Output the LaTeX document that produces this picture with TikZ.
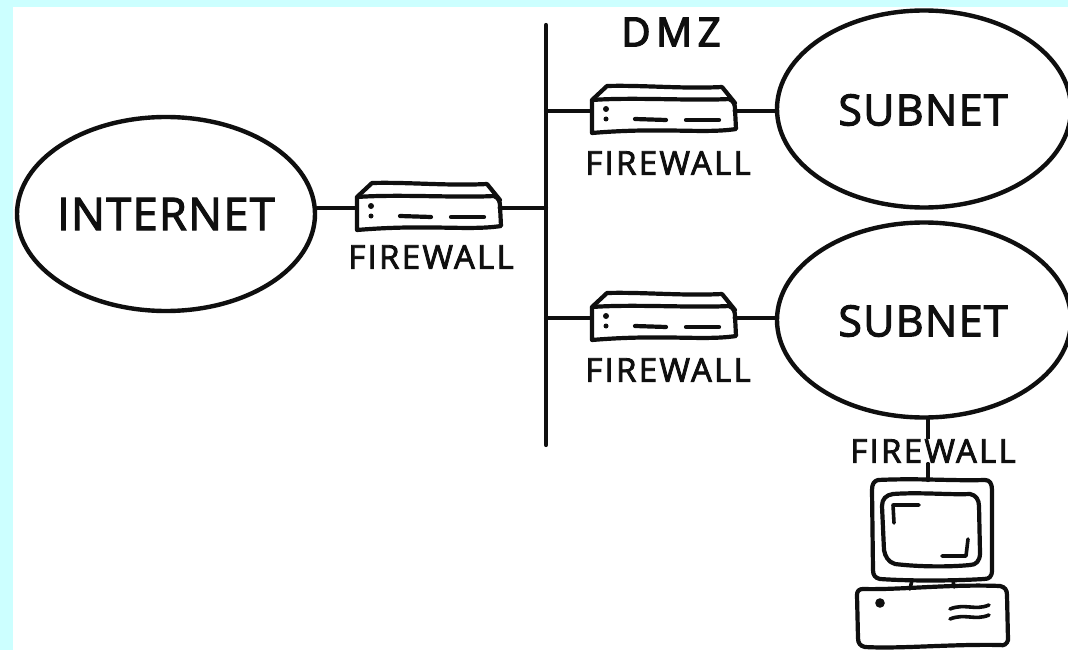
\documentclass[tikz,border=0pt]{standalone}
\usepackage{fontspec}
\setmainfont[FakeBold=2.5]{Open Sans}
\newfontfamily\lblfont[LetterSpace=7,FakeBold=2.5]{Open Sans}
\newfontfamily\dmzfont[LetterSpace=14,FakeBold=3.5]{Open Sans}
\newfontfamily\ovalfont[LetterSpace=3,FakeBold=2.5]{Open Sans}
\definecolor{pagebg}{RGB}{204,255,255}
\definecolor{ink}{RGB}{15,15,15}
\usetikzlibrary{shapes.geometric}
\tikzset{
  x=1pt,y=-1pt,
  ink line/.style={draw=ink,line width=4.2pt,line cap=round,line join=round},
  thin ink/.style={draw=ink,line width=3.6pt,line cap=round,line join=round},
  cloud oval/.style={ellipse,draw=ink,line width=4.4pt,inner sep=0pt},
  oval text/.style={font=\ovalfont\fontsize{43}{43}\selectfont,text=ink,inner sep=0pt},
  fwbox/.style={rectangle,minimum width=143pt,minimum height=34pt,inner sep=0pt},
  fwlabel/.style={font=\lblfont\fontsize{33}{33}\selectfont,text=ink,inner sep=1pt},
}
\newcommand{\fwall}[2]{%
  \node[fwbox] (#1) at (#2) {};
  \begin{scope}[shift={(#2)}]
    \draw[ink line] (-71,-11) .. controls (-30,-14) and (30,-10) .. (66,-12)
      .. controls (71,-10) and (72,-6) .. (72,-2) -- (73,18)
      .. controls (40,23) and (0,16) .. (-71,22) -- (-71,-11) -- cycle;
    \draw[ink line] (-71,-11) -- (-56,-25) .. controls (-20,-26) and (20,-22) .. (59,-24) -- (72,-8);
    \draw[ink line] (-28,8) -- (3,9);
    \draw[ink line] (23,9) -- (56,9);
    \fill[ink] (-57,-2) circle (3pt) (-57,8) circle (2.5pt);
  \end{scope}}
\begin{document}
\begin{tikzpicture}
\useasboundingbox (0,0) rectangle (1068,650);
\fill[pagebg] (0,0) rectangle (1068,650);
\fill[white] (13,7) rectangle (1068,650);

\node[cloud oval,minimum width=298pt,minimum height=194pt] (inet) at (166,214) {};
\node[cloud oval,minimum width=294pt,minimum height=197pt] (sub1) at (924,109) {};
\node[cloud oval,minimum width=294pt,minimum height=195pt] (sub2) at (924,320) {};
\node[oval text,font=\ovalfont\fontsize{45}{45}\selectfont] (tinet) at (166,214) {INTERNET};
\node[oval text] (tsub1) at (923,110) {SUBNET};
\node[oval text] (tsub2) at (923,321) {SUBNET};

\coordinate (bustop) at (546,25);
\coordinate (busbot) at (546,445);
\draw[ink line] (bustop) -- (busbot);

\fwall{fw1}{428,208}
\fwall{fw2}{663,111}
\fwall{fw3}{663,318}

\draw[ink line] (inet.east |- fw1.west) -- (fw1.west);
\draw[ink line] (fw1.east) -- (fw1.east -| bustop);
\draw[ink line] (fw2.west -| bustop) -- (fw2.west);
\draw[ink line] (fw2.east) -- (fw2.east -| sub1.west);
\draw[ink line] (fw3.west -| bustop) -- (fw3.west);
\draw[ink line] (fw3.east) -- (fw3.east -| sub2.west);

\node[font=\dmzfont\fontsize{40}{40}\selectfont,text=ink] (dmz) at (671,32) {DMZ};
\node[fwlabel] (l1) at (431,257) {FIREWALL};
\node[fwlabel] (l2) at (668,163) {FIREWALL};
\node[fwlabel] (l3) at (668,370) {FIREWALL};

% computer
\coordinate (link top) at (928,418);
\coordinate (link bot) at (928,480);
\draw[ink line] (link top) -- (link bot);
\node[fwlabel,fill=white,inner ysep=0pt] (l4) at (933,451) {FIREWALL};
\draw[ink line] (928,464) -- (link bot);
\draw[ink line] (878,480) .. controls (920,478) and (950,481) .. (985,480)
  .. controls (990,480) and (992,484) .. (992,490) -- (992,570)
  .. controls (992,577) and (989,579) .. (984,579)
  .. controls (950,581) and (910,581) .. (880,579)
  .. controls (875,578) and (873,575) .. (873,570) -- (872,490)
  .. controls (872,484) and (874,481) .. (878,480) -- cycle;
\draw[ink line] (893,494) .. controls (920,492) and (950,495) .. (970,494)
  .. controls (976,495) and (979,500) .. (979,506) -- (980,553)
  .. controls (980,561) and (976,565) .. (970,565)
  .. controls (950,567) and (920,567) .. (895,564)
  .. controls (888,562) and (885,556) .. (884,550) -- (882,506)
  .. controls (882,499) and (886,495) .. (893,494) -- cycle;
\draw[thin ink] (894,523) -- (893,505) -- (919,505);
\draw[thin ink] (942,556) -- (966,556) -- (968,539);
\draw[thin ink] (912,580) -- (910,589);
\draw[thin ink] (953,580) -- (954,587);
\draw[ink line] (863,589) .. controls (900,590) and (950,584) .. (1000,586)
  .. controls (1005,587) and (1007,590) .. (1007,595) -- (1008,640)
  .. controls (1007,644) and (1004,646) .. (1000,645)
  .. controls (950,644) and (900,649) .. (865,647)
  .. controls (860,646) and (858,643) .. (858,638) -- (857,595)
  .. controls (857,591) and (859,589) .. (863,589) -- cycle;
\fill[ink] (880,603) circle (4.8pt);
\draw[thin ink] (950,609) .. controls (965,603) and (975,611) .. (989,605);
\draw[thin ink] (950,619) .. controls (965,613) and (975,621) .. (989,615);
\end{tikzpicture}
\end{document}
